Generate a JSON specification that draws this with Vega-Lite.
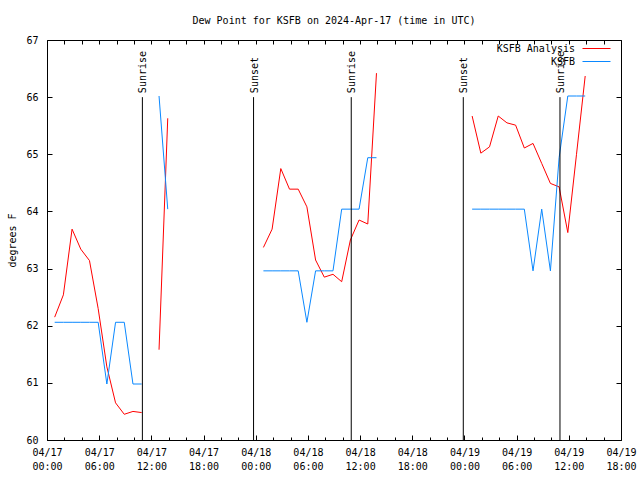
{
  "$schema": "https://vega.github.io/schema/vega-lite/v6.json",
  "width": 574,
  "height": 400,
  "autosize": {"type": "none"},
  "padding": {"left": 47, "top": 40, "right": 19, "bottom": 40},
  "background": "white",
  "title": {"text": "Dew Point for KSFB on 2024-Apr-17 (time in UTC)", "fontSize": 10, "font": "DejaVu Sans Mono", "fontWeight": "normal", "anchor": "middle", "baseline": "bottom", "offset": -1, "color": "black"},
  "config": {
    "font": "DejaVu Sans Mono",
    "view": {"stroke": "black", "strokeWidth": 1},
    "axis": {"domain": false, "grid": false, "labelFont": "DejaVu Sans Mono", "labelFontSize": 10, "labelColor": "black", "tickColor": "black", "tickWidth": 1, "titleFont": "DejaVu Sans Mono", "titleFontSize": 10, "titleFontWeight": "normal", "titleColor": "black"}
  },
  "datasets": {
    "obs": [
      {"time": "2024-04-17T00:53:00Z", "series": "KSFB Analysis", "seg": 1, "dewpoint": 62.15},
      {"time": "2024-04-17T01:53:00Z", "series": "KSFB Analysis", "seg": 1, "dewpoint": 62.54},
      {"time": "2024-04-17T02:53:00Z", "series": "KSFB Analysis", "seg": 1, "dewpoint": 63.69},
      {"time": "2024-04-17T03:53:00Z", "series": "KSFB Analysis", "seg": 1, "dewpoint": 63.34},
      {"time": "2024-04-17T04:53:00Z", "series": "KSFB Analysis", "seg": 1, "dewpoint": 63.14},
      {"time": "2024-04-17T05:53:00Z", "series": "KSFB Analysis", "seg": 1, "dewpoint": 62.30},
      {"time": "2024-04-17T06:53:00Z", "series": "KSFB Analysis", "seg": 1, "dewpoint": 61.28},
      {"time": "2024-04-17T07:53:00Z", "series": "KSFB Analysis", "seg": 1, "dewpoint": 60.65},
      {"time": "2024-04-17T08:53:00Z", "series": "KSFB Analysis", "seg": 1, "dewpoint": 60.45},
      {"time": "2024-04-17T09:53:00Z", "series": "KSFB Analysis", "seg": 1, "dewpoint": 60.50},
      {"time": "2024-04-17T10:53:00Z", "series": "KSFB Analysis", "seg": 1, "dewpoint": 60.48},
      {"time": "2024-04-17T12:53:00Z", "series": "KSFB Analysis", "seg": 2, "dewpoint": 61.58},
      {"time": "2024-04-17T13:53:00Z", "series": "KSFB Analysis", "seg": 2, "dewpoint": 65.63},
      {"time": "2024-04-18T00:53:00Z", "series": "KSFB Analysis", "seg": 3, "dewpoint": 63.37},
      {"time": "2024-04-18T01:53:00Z", "series": "KSFB Analysis", "seg": 3, "dewpoint": 63.69},
      {"time": "2024-04-18T02:53:00Z", "series": "KSFB Analysis", "seg": 3, "dewpoint": 64.75},
      {"time": "2024-04-18T03:53:00Z", "series": "KSFB Analysis", "seg": 3, "dewpoint": 64.39},
      {"time": "2024-04-18T04:53:00Z", "series": "KSFB Analysis", "seg": 3, "dewpoint": 64.39},
      {"time": "2024-04-18T05:53:00Z", "series": "KSFB Analysis", "seg": 3, "dewpoint": 64.08},
      {"time": "2024-04-18T06:53:00Z", "series": "KSFB Analysis", "seg": 3, "dewpoint": 63.15},
      {"time": "2024-04-18T07:53:00Z", "series": "KSFB Analysis", "seg": 3, "dewpoint": 62.85},
      {"time": "2024-04-18T08:53:00Z", "series": "KSFB Analysis", "seg": 3, "dewpoint": 62.90},
      {"time": "2024-04-18T09:53:00Z", "series": "KSFB Analysis", "seg": 3, "dewpoint": 62.77},
      {"time": "2024-04-18T10:53:00Z", "series": "KSFB Analysis", "seg": 3, "dewpoint": 63.50},
      {"time": "2024-04-18T11:53:00Z", "series": "KSFB Analysis", "seg": 3, "dewpoint": 63.85},
      {"time": "2024-04-18T12:53:00Z", "series": "KSFB Analysis", "seg": 3, "dewpoint": 63.78},
      {"time": "2024-04-18T13:53:00Z", "series": "KSFB Analysis", "seg": 3, "dewpoint": 66.42},
      {"time": "2024-04-19T00:53:00Z", "series": "KSFB Analysis", "seg": 4, "dewpoint": 65.67},
      {"time": "2024-04-19T01:53:00Z", "series": "KSFB Analysis", "seg": 4, "dewpoint": 65.02},
      {"time": "2024-04-19T02:53:00Z", "series": "KSFB Analysis", "seg": 4, "dewpoint": 65.13},
      {"time": "2024-04-19T03:53:00Z", "series": "KSFB Analysis", "seg": 4, "dewpoint": 65.67},
      {"time": "2024-04-19T04:53:00Z", "series": "KSFB Analysis", "seg": 4, "dewpoint": 65.55},
      {"time": "2024-04-19T05:53:00Z", "series": "KSFB Analysis", "seg": 4, "dewpoint": 65.51},
      {"time": "2024-04-19T06:53:00Z", "series": "KSFB Analysis", "seg": 4, "dewpoint": 65.11},
      {"time": "2024-04-19T07:53:00Z", "series": "KSFB Analysis", "seg": 4, "dewpoint": 65.19},
      {"time": "2024-04-19T08:53:00Z", "series": "KSFB Analysis", "seg": 4, "dewpoint": 64.84},
      {"time": "2024-04-19T09:53:00Z", "series": "KSFB Analysis", "seg": 4, "dewpoint": 64.49},
      {"time": "2024-04-19T10:53:00Z", "series": "KSFB Analysis", "seg": 4, "dewpoint": 64.43},
      {"time": "2024-04-19T11:53:00Z", "series": "KSFB Analysis", "seg": 4, "dewpoint": 63.63},
      {"time": "2024-04-19T12:53:00Z", "series": "KSFB Analysis", "seg": 4, "dewpoint": 65.00},
      {"time": "2024-04-19T13:53:00Z", "series": "KSFB Analysis", "seg": 4, "dewpoint": 66.37},
      {"time": "2024-04-17T00:53:00Z", "series": "KSFB", "seg": 1, "dewpoint": 62.06},
      {"time": "2024-04-17T01:53:00Z", "series": "KSFB", "seg": 1, "dewpoint": 62.06},
      {"time": "2024-04-17T02:53:00Z", "series": "KSFB", "seg": 1, "dewpoint": 62.06},
      {"time": "2024-04-17T03:53:00Z", "series": "KSFB", "seg": 1, "dewpoint": 62.06},
      {"time": "2024-04-17T04:53:00Z", "series": "KSFB", "seg": 1, "dewpoint": 62.06},
      {"time": "2024-04-17T05:53:00Z", "series": "KSFB", "seg": 1, "dewpoint": 62.06},
      {"time": "2024-04-17T06:53:00Z", "series": "KSFB", "seg": 1, "dewpoint": 60.98},
      {"time": "2024-04-17T07:53:00Z", "series": "KSFB", "seg": 1, "dewpoint": 62.06},
      {"time": "2024-04-17T08:53:00Z", "series": "KSFB", "seg": 1, "dewpoint": 62.06},
      {"time": "2024-04-17T09:53:00Z", "series": "KSFB", "seg": 1, "dewpoint": 60.98},
      {"time": "2024-04-17T10:53:00Z", "series": "KSFB", "seg": 1, "dewpoint": 60.98},
      {"time": "2024-04-17T12:53:00Z", "series": "KSFB", "seg": 2, "dewpoint": 66.02},
      {"time": "2024-04-17T13:53:00Z", "series": "KSFB", "seg": 2, "dewpoint": 64.04},
      {"time": "2024-04-18T00:53:00Z", "series": "KSFB", "seg": 3, "dewpoint": 62.96},
      {"time": "2024-04-18T01:53:00Z", "series": "KSFB", "seg": 3, "dewpoint": 62.96},
      {"time": "2024-04-18T02:53:00Z", "series": "KSFB", "seg": 3, "dewpoint": 62.96},
      {"time": "2024-04-18T03:53:00Z", "series": "KSFB", "seg": 3, "dewpoint": 62.96},
      {"time": "2024-04-18T04:53:00Z", "series": "KSFB", "seg": 3, "dewpoint": 62.96},
      {"time": "2024-04-18T05:53:00Z", "series": "KSFB", "seg": 3, "dewpoint": 62.06},
      {"time": "2024-04-18T06:53:00Z", "series": "KSFB", "seg": 3, "dewpoint": 62.96},
      {"time": "2024-04-18T07:53:00Z", "series": "KSFB", "seg": 3, "dewpoint": 62.96},
      {"time": "2024-04-18T08:53:00Z", "series": "KSFB", "seg": 3, "dewpoint": 62.96},
      {"time": "2024-04-18T09:53:00Z", "series": "KSFB", "seg": 3, "dewpoint": 64.04},
      {"time": "2024-04-18T10:53:00Z", "series": "KSFB", "seg": 3, "dewpoint": 64.04},
      {"time": "2024-04-18T11:53:00Z", "series": "KSFB", "seg": 3, "dewpoint": 64.04},
      {"time": "2024-04-18T12:53:00Z", "series": "KSFB", "seg": 3, "dewpoint": 64.94},
      {"time": "2024-04-18T13:53:00Z", "series": "KSFB", "seg": 3, "dewpoint": 64.94},
      {"time": "2024-04-19T00:53:00Z", "series": "KSFB", "seg": 4, "dewpoint": 64.04},
      {"time": "2024-04-19T01:53:00Z", "series": "KSFB", "seg": 4, "dewpoint": 64.04},
      {"time": "2024-04-19T02:53:00Z", "series": "KSFB", "seg": 4, "dewpoint": 64.04},
      {"time": "2024-04-19T03:53:00Z", "series": "KSFB", "seg": 4, "dewpoint": 64.04},
      {"time": "2024-04-19T04:53:00Z", "series": "KSFB", "seg": 4, "dewpoint": 64.04},
      {"time": "2024-04-19T05:53:00Z", "series": "KSFB", "seg": 4, "dewpoint": 64.04},
      {"time": "2024-04-19T06:53:00Z", "series": "KSFB", "seg": 4, "dewpoint": 64.04},
      {"time": "2024-04-19T07:53:00Z", "series": "KSFB", "seg": 4, "dewpoint": 62.96},
      {"time": "2024-04-19T08:53:00Z", "series": "KSFB", "seg": 4, "dewpoint": 64.04},
      {"time": "2024-04-19T09:53:00Z", "series": "KSFB", "seg": 4, "dewpoint": 62.96},
      {"time": "2024-04-19T10:53:00Z", "series": "KSFB", "seg": 4, "dewpoint": 64.94},
      {"time": "2024-04-19T11:53:00Z", "series": "KSFB", "seg": 4, "dewpoint": 66.02},
      {"time": "2024-04-19T12:53:00Z", "series": "KSFB", "seg": 4, "dewpoint": 66.02},
      {"time": "2024-04-19T13:53:00Z", "series": "KSFB", "seg": 4, "dewpoint": 66.02}
    ],
    "sun": [
      {"time": "2024-04-17T10:58:00Z", "event": "Sunrise"},
      {"time": "2024-04-17T23:45:00Z", "event": "Sunset"},
      {"time": "2024-04-18T10:59:00Z", "event": "Sunrise"},
      {"time": "2024-04-18T23:52:00Z", "event": "Sunset"},
      {"time": "2024-04-19T10:59:00Z", "event": "Sunrise"}
    ]
  },
  "layer": [
    {
      "data": {"name": "obs"},
      "mark": {"type": "line", "strokeWidth": 1, "interpolate": "linear"},
      "encoding": {
        "x": {"field": "time", "type": "temporal",
          "scale": {"type": "utc", "domain": [1713312000000, 1713549600000]},
          "axis": {"orient": "bottom", "offset": -5, "values": [1713312000000, 1713333600000, 1713355200000, 1713376800000, 1713398400000, 1713420000000, 1713441600000, 1713463200000, 1713484800000, 1713506400000, 1713528000000, 1713549600000], "tickSize": 5, "labelExpr": "[utcFormat(datum.value, '%m/%d'), utcFormat(datum.value, '%H:%M')]", "labelPadding": 7, "labelLineHeight": 14, "labelFlush": false, "labelOverlap": false, "title": null}},
        "y": {"field": "dewpoint", "type": "quantitative",
          "scale": {"domain": [60, 67], "nice": false, "zero": false},
          "axis": {"orient": "left", "offset": -5, "values": [60, 61, 62, 63, 64, 65, 66, 67], "tickSize": 5, "labelPadding": 9, "title": "degrees F", "titlePadding": 8}},
        "color": {"field": "series", "type": "nominal",
          "scale": {"domain": ["KSFB Analysis", "KSFB"], "range": ["#ff0000", "#0a88ff"]},
          "legend": {"orient": "none", "legendX": 542, "legendY": 1, "title": null, "symbolType": "M-2,0H2", "symbolSize": 196, "symbolStrokeWidth": 1, "labelAlign": "right", "labelOffset": -29, "labelFontSize": 10, "labelFont": "DejaVu Sans Mono", "labelColor": "black", "rowPadding": 0, "padding": 0,
            "encode": {"symbols": {"update": {"stroke": {"scale": "color", "field": "value"}, "fill": {"value": "transparent"}}}}}},
        "detail": {"field": "seg", "type": "nominal"}
      }
    },
    {
      "data": {"name": "sun"},
      "mark": {"type": "rule", "color": "black", "strokeWidth": 1},
      "encoding": {
        "x": {"field": "time", "type": "temporal", "axis": {"orient": "top", "offset": -4, "values": [1713312000000, 1713319200000, 1713326400000, 1713333600000, 1713340800000, 1713348000000, 1713355200000, 1713362400000, 1713369600000, 1713376800000, 1713384000000, 1713391200000, 1713398400000, 1713405600000, 1713412800000, 1713420000000, 1713427200000, 1713434400000, 1713441600000, 1713448800000, 1713456000000, 1713463200000, 1713470400000, 1713477600000, 1713484800000, 1713492000000, 1713499200000, 1713506400000, 1713513600000, 1713520800000, 1713528000000, 1713535200000, 1713542400000, 1713549600000], "tickSize": 4, "labels": false, "title": null}},
        "y": {"datum": 66, "type": "quantitative", "axis": {"orient": "right", "offset": -5, "values": [60, 61, 62, 63, 64, 65, 66, 67], "tickSize": 5, "labels": false, "title": null}},
        "y2": {"datum": 60}
      }
    },
    {
      "data": {"name": "sun"},
      "mark": {"type": "text", "angle": 270, "align": "left", "baseline": "middle", "dx": 4, "dy": 1, "fontSize": 10, "font": "DejaVu Sans Mono", "color": "black"},
      "encoding": {
        "x": {"field": "time", "type": "temporal", "axis": {"orient": "bottom", "offset": -3, "values": [1713312000000, 1713319200000, 1713326400000, 1713333600000, 1713340800000, 1713348000000, 1713355200000, 1713362400000, 1713369600000, 1713376800000, 1713384000000, 1713391200000, 1713398400000, 1713405600000, 1713412800000, 1713420000000, 1713427200000, 1713434400000, 1713441600000, 1713448800000, 1713456000000, 1713463200000, 1713470400000, 1713477600000, 1713484800000, 1713492000000, 1713499200000, 1713506400000, 1713513600000, 1713520800000, 1713528000000, 1713535200000, 1713542400000, 1713549600000], "tickSize": 3, "labels": false, "title": null}},
        "y": {"datum": 66, "type": "quantitative", "axis": {"orient": "left", "labels": false, "ticks": false, "domain": false, "title": null}},
        "text": {"field": "event"}
      }
    }
  ],
  "resolve": {"axis": {"x": "independent", "y": "independent"}}
}
